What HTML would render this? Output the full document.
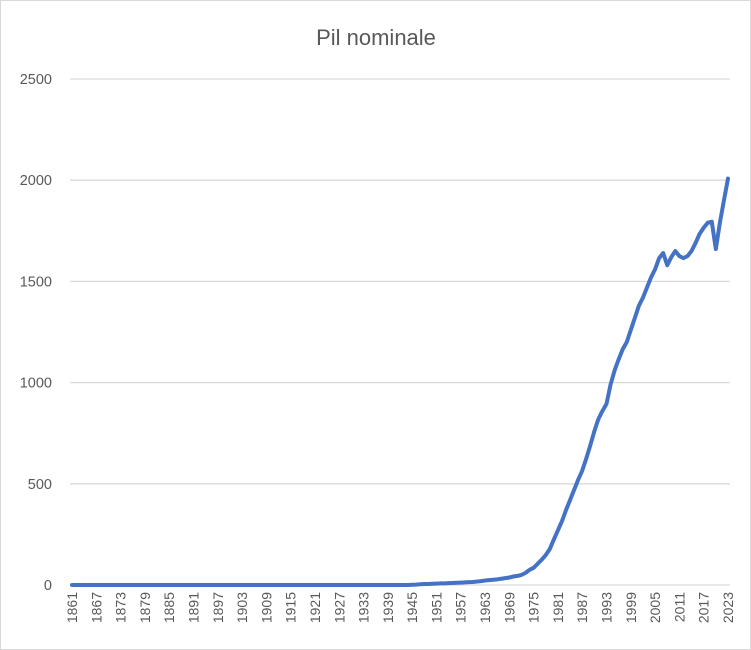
<!DOCTYPE html>
<html><head><meta charset="utf-8"><style>
body{margin:0;background:#fff}
svg{display:block;font-family:"Liberation Sans",sans-serif}
</style></head><body>
<svg width="751" height="650">
<rect x="0.5" y="0.5" width="750" height="649" fill="#fff" stroke="#d9d9d9"/>
<text x="376" y="45" text-anchor="middle" font-size="22" fill="#595959">Pil nominale</text>
<g id="grid"></g><g id="yl"></g><g id="xl"></g><g id="ser"></g>
</svg>
<script>
const startYear = 1861;
const values = [
0,0,0,0,0,0,0,0,0,0, 0,0,0,0,0,0,0,0,0,0,
0,0,0,0,0,0,0,0,0,0, 0,0,0,0,0,0,0,0,0,0,
0,0,0,0,0,0,0,0,0,0, 0,0,0,0,0,0,0,0,0,0,
0,0,0,0,0,0,0,0,0,0, 0,0,0,0,0,0,0,0,0,0,
0,0,0,0,
1,2,4,5,5,6,7,8,8,9,10,11,12,13,14,15,17,19,22,24,26,28,31,34,37,42,45,50,60,75,
85,105,125,148,178,225,270,315,370,420,470,520,565,625,690,760,820,860,895,990,
1060,1115,1165,1200,1260,1320,1380,1420,1470,1520,1560,1615,1640,1580,1620,1650,1625,1615,1625,1650,
1690,1735,1765,1790,1795,1660,1790,1900,2008];
const yTicks = [0,500,1000,1500,2000,2500];
const NS="http://www.w3.org/2000/svg";
const L=70,R=730,Y0=585,YT=79,VMAX=2500;
const n=values.length, bw=(R-L)/n;
const xs=i=>L+(i+0.5)*bw;
const ys=v=>Y0-(v/VMAX)*(Y0-YT);
function mk(t,a,p){const e=document.createElementNS(NS,t);for(const k in a)e.setAttribute(k,a[k]);p.appendChild(e);return e;}
const grid=document.getElementById('grid'),yl=document.getElementById('yl'),xl=document.getElementById('xl'),ser=document.getElementById('ser');
yTicks.forEach(t=>{
 const g=mk('line',{x1:L,x2:R,y1:ys(t),y2:ys(t),stroke:'#d9d9d9','stroke-width':1.3},grid);
 
 
 const tx=mk('text',{x:52,y:ys(t)+5,'text-anchor':'end','font-size':14.5,fill:'#595959'},yl);
 tx.textContent=t;
 
 
});
for(let i=0;i<n;i+=6){
 const x=xs(i)+5,y=592;
 const tx=mk('text',{x:x,y:y,transform:`rotate(-90 ${x} ${y})`,'text-anchor':'end','font-size':14,fill:'#595959'},xl);
 tx.textContent=startYear+i;
 
 
}
const d=values.map((v,i)=>(i?'L':'M')+xs(i).toFixed(2)+' '+ys(v).toFixed(2)).join(' ');
const p=mk('path',{d:d,fill:'none',stroke:'#4472C4','stroke-width':4,'stroke-linejoin':'round','stroke-linecap':'round'},ser);


</script>
</body></html>
